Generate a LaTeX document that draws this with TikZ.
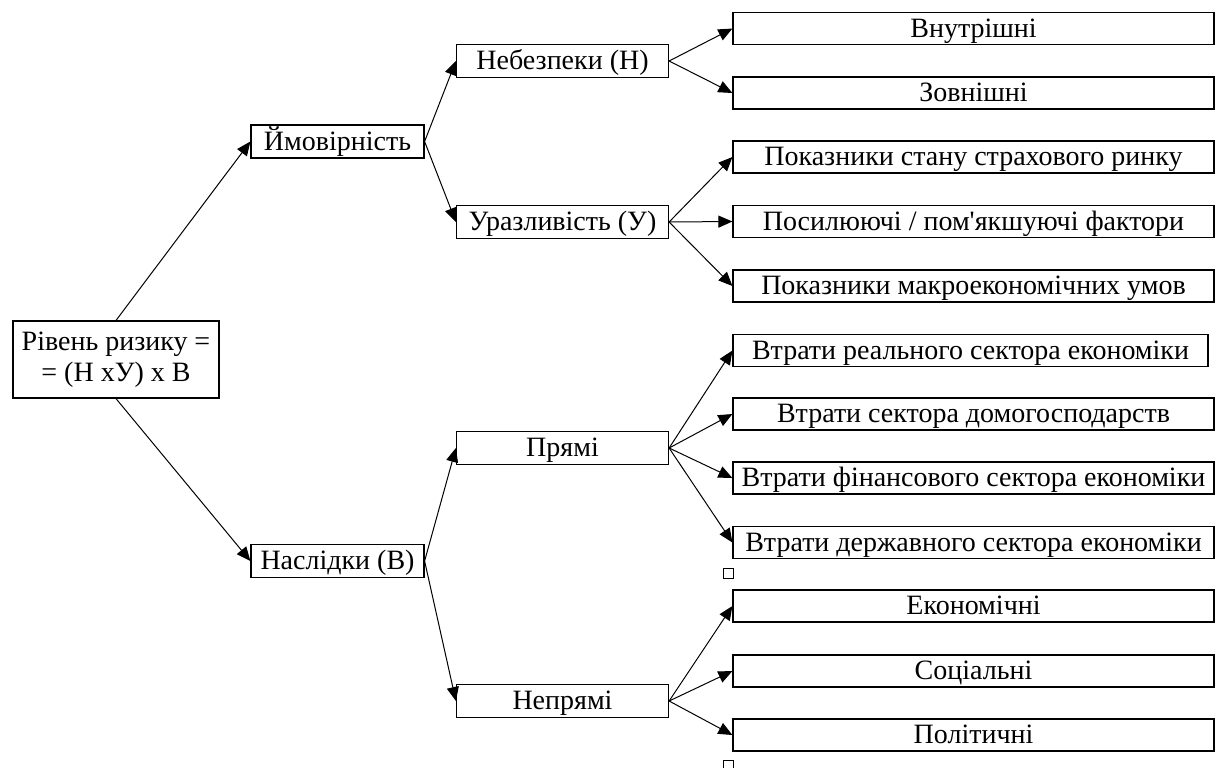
\documentclass[tikz,border=0pt]{standalone}
\usepackage{fontspec}
\setmainfont{Liberation Serif}[Ligatures=TeXOff]
\usetikzlibrary{arrows.meta}
\tikzset{
  bx/.style={draw, line width=0.6pt, fill=white, font=\fontsize{14}{16}\selectfont,
    inner sep=1pt, text height=10.5pt, text depth=2pt},
  rootbx/.style={draw, line width=0.6pt, fill=white, font=\fontsize{14}{15.5}\selectfont,
    align=center, inner sep=2pt, minimum width=103pt, minimum height=38.5pt},
  lvlone/.style={bx, minimum width=86.5pt, minimum height=16.5pt},
  lvltwo/.style={bx, minimum width=106pt, minimum height=16.5pt},
  leaf/.style={bx, minimum width=240.5pt, minimum height=16pt},
  arr/.style={-{Triangle[length=7pt,width=6pt]}, line width=0.5pt},
  stray/.style={draw, line width=0.45pt, minimum size=5pt, inner sep=0pt},
}
\begin{document}
\begin{tikzpicture}[x=0.5pt, y=-0.5pt]
  \useasboundingbox (0,0) rectangle (1218,767);
  % root
  \node[rootbx] (root) at (116,359.5) {Рівень ризику =\\= (Н хУ) х В};
  % first level
  \node[lvlone] (imov) at (337.5,141.5) {Ймовірність};
  \node[lvlone] (nasl) at (337.5,561) {Наслідки (В)};
  % second level
  \node[lvltwo] (nebez) at (562.5,61) {Небезпеки (Н)};
  \node[lvltwo] (urazl) at (562.5,222) {Уразливість (У)};
  \node[lvltwo] (pryami) at (562.5,448) {Прямі};
  \node[lvltwo] (nepryami) at (562.5,701) {Непрямі};
  % leaves
  \node[leaf] (vnutr) at (973.5,28.5) {Внутрішні};
  \node[leaf] (zovn) at (973.5,93) {Зовнішні};
  \node[leaf] (pokstan) at (973.5,157) {Показники стану страхового ринку};
  \node[leaf] (posyl) at (973.5,221.5) {Посилюючі / пом'якшуючі фактори};
  \node[leaf] (pokmakro) at (973.5,286) {Показники макроекономічних умов};
  \node[leaf, minimum width=237.5pt] (real) at (970.5,350.5) {Втрати реального сектора економіки};
  \node[leaf] (domog) at (973.5,414) {Втрати сектора домогосподарств};
  \node[leaf] (finans) at (973.5,478) {Втрати фінансового сектора економіки};
  \node[leaf] (derzh) at (973.5,542.5) {Втрати державного сектора економіки};
  \node[leaf] (econ) at (973.5,606) {Економічні};
  \node[leaf] (soc) at (973.5,671) {Соціальні};
  \node[leaf] (polit) at (973.5,735) {Політичні};
  % stray marks
  \node[stray] (sqa) at (728,573) {};
  \node[stray] (sqb) at (728,765.5) {};

  \draw[arr] (root.north) -- (imov.west);
  \draw[arr] (root.south) -- (nasl.west);
  \draw[arr] (imov.east) -- (nebez.west);
  \draw[arr] (imov.east) -- (urazl.west);
  \draw[arr] (nasl.east) -- (pryami.west);
  \draw[arr] (nasl.east) -- (nepryami.west);
  \draw[arr] (nebez.east) -- (vnutr.west);
  \draw[arr] (nebez.east) -- (zovn.west);
  \draw[arr] (urazl.east) -- (pokstan.west);
  \draw[arr] (urazl.east) -- (posyl.west);
  \draw[arr] (urazl.east) -- (pokmakro.west);
  \draw[arr] (pryami.east) -- (real.west);
  \draw[arr] (pryami.east) -- (domog.west);
  \draw[arr] (pryami.east) -- (finans.west);
  \draw[arr] (pryami.east) -- (derzh.west);
  \draw[arr] (nepryami.east) -- (econ.west);
  \draw[arr] (nepryami.east) -- (soc.west);
  \draw[arr] (nepryami.east) -- (polit.west);
\end{tikzpicture}
\end{document}
